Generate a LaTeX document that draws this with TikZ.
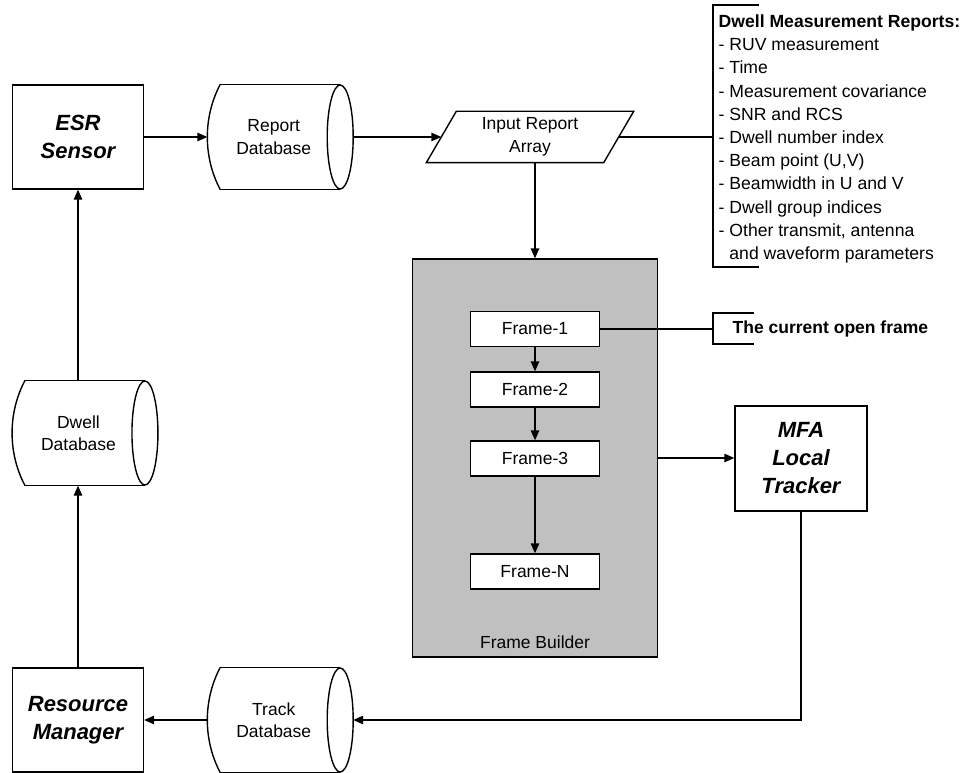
\documentclass[tikz,border=0pt]{standalone}
\usepackage{fontspec}
\setmainfont{Liberation Sans}
\usetikzlibrary{arrows.meta}
\definecolor{fbgray}{HTML}{C0C0C0}
\newcommand{\dbdraw}[1]{%
  \draw ([xshift=13pt]#1.north west) -- (#1.north east)
        ([xshift=13pt]#1.south west) -- (#1.south east);
  \draw ([xshift=13pt]#1.north west) .. controls ([xshift=-4.3pt,yshift=-32.5pt]#1.north west) and ([xshift=-4.3pt,yshift=32.5pt]#1.south west) .. ([xshift=13pt]#1.south west);
  \draw (#1.east) ellipse [x radius=13pt, y radius=52pt];
}
\begin{document}
\begin{tikzpicture}[x=1pt,y=-1pt,
  line width=1.4pt,
  arr/.style={-{Triangle[length=10pt,width=8.5pt]}},
  txt/.style={font=\fontsize{17.5}{22.5}\selectfont, align=center},
  title/.style={font=\fontsize{22}{28}\selectfont\bfseries\itshape, align=center},
  sbox/.style={draw, fill=white, minimum width=131pt, minimum height=104pt, inner sep=0pt},
  dbbody/.style={minimum width=131.5pt, minimum height=104pt, inner sep=0pt, txt},
  frm/.style={draw, fill=white, minimum width=129pt, minimum height=35pt, inner sep=0pt, txt},
]
\useasboundingbox (0,0) rectangle (964,773);

% top row
\node[sbox, title] (esr) at (78,137) {ESR\\Sensor};
\node[dbbody] (rdb) at (273.75,137) {Report\\Database};
\dbdraw{rdb}
\node[minimum width=176pt, minimum height=50pt, inner sep=0pt, txt] (ira) at (530,137) {Input Report\\Array};
\draw ([xshift=-15pt]ira.south west) -- ([xshift=-15pt]ira.south east) -- ([xshift=15pt]ira.north east) -- ([xshift=15pt]ira.north west) -- cycle;

% report list bracket
\coordinate (bT) at (713,5);
\coordinate (bB) at (713,267);
\coordinate (bM) at (713,137);
\draw ([xshift=46pt]bT) -- (bT) -- (bB) -- ([xshift=46pt]bB);
\node[anchor=north west, inner sep=0pt, align=left, font=\fontsize{17.6}{23.2}\selectfont] (dmr) at (718,14)
 {\textbf{Dwell Measurement Reports:}\\
  - RUV measurement\\
  - Time\\
  - Measurement covariance\\
  - SNR and RCS\\
  - Dwell number index\\
  - Beam point (U,V)\\
  - Beamwidth in U and V\\
  - Dwell group indices\\
  - Other transmit, antenna\\
  \phantom{- }and waveform parameters};

% frame builder
\node[draw, fill=fbgray, minimum width=245pt, minimum height=398pt, inner sep=0pt] (fb) at (535,458) {};
\node[txt] (fbl) at (535,642) {Frame Builder};
\node[frm] (f1) at (535,329) {Frame-1};
\node[frm] (f2) at (535,389.5) {Frame-2};
\node[frm] (f3) at (535,458.5) {Frame-3};
\node[frm] (fn) at (535,571.5) {Frame-N};

% current open frame bracket
\coordinate (cT) at (713,313);
\coordinate (cB) at (713,344);
\draw ([xshift=41pt]cT) -- (cT) -- (cB) -- ([xshift=41pt]cB);
\node[anchor=west, inner sep=0pt, font=\fontsize{17.5}{22.5}\selectfont\bfseries] (cof) at (732,329) {The current open frame};

% MFA
\node[sbox, title, minimum width=132pt, minimum height=105pt] (mfa) at (801,458.5) {MFA\\Local\\Tracker};

% left column
\node[dbbody] (ddb) at (78.5,433) {Dwell\\Database};
\dbdraw{ddb}
\node[sbox, title] (rm) at (78,720) {Resource\\Manager};
\node[dbbody] (tdb) at (273.75,720) {Track\\Database};
\dbdraw{tdb}

% connectors
\draw[arr] (esr.east) -- (rdb.west);
\draw[arr] ([xshift=13pt]rdb.east) -- (ira.west);
\draw (ira.east) -- (bM);
\draw[arr] (ira.south -| fb.north) -- (fb.north);
\draw[arr] (f1) -- (f2);
\draw[arr] (f2) -- (f3);
\draw[arr] (f3) -- (fn);
\draw (f1.east) -- (f1.east -| cT);
\draw[arr] (fb.east) -- (fb.east -| mfa.west);
\draw[arr] (mfa.south) |- ([xshift=13pt]tdb.east);
\draw[arr] (tdb.west) -- (rm.east);
\draw[arr] (rm.north) -- (rm.north |- ddb.south);
\draw[arr] (esr.south |- ddb.north) -- (esr.south);
\end{tikzpicture}
\end{document}
